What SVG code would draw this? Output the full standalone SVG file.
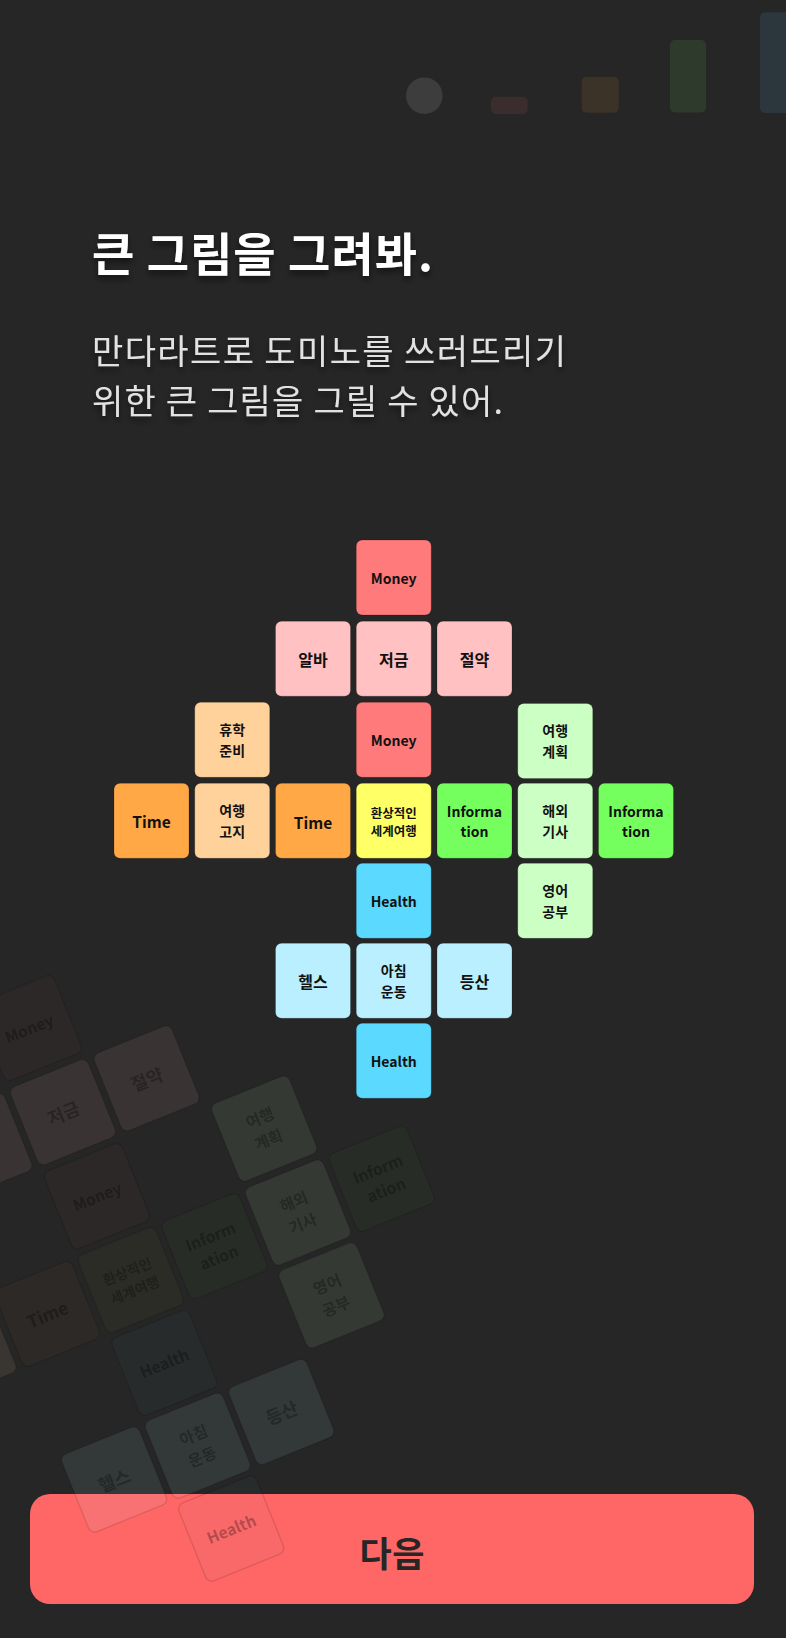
<svg xmlns="http://www.w3.org/2000/svg" width="786" height="1638" viewBox="0 0 786 1638">
<defs>
<style>
.bg{fill:#262626}
.t{stroke:rgba(0,0,0,0.18);stroke-width:1}
.red{fill:#FF7A7A}.pink{fill:#FFC1C1}
.org{fill:#FFA845}.lorg{fill:#FFD29B}
.yel{fill:#FFFF66}
.grn{fill:#75FF5E}.lgrn{fill:#CCFFC4}
.blu{fill:#5CD9FF}.lblu{fill:#B9EFFF}
.dim{fill-opacity:0.032}
.lite{fill-opacity:0.092}
.fs{stroke:rgba(0,0,0,0.12);stroke-width:1.2}
text{font-family:"Noto Sans CJK KR","Noto Sans",sans-serif;font-weight:700;fill:#111;text-anchor:middle;dominant-baseline:central}
#faded text{fill:#000;fill-opacity:0.3}
.lb{font-size:14px}
.lk{font-size:16px}
.lt{font-size:15.5px}
.ls{font-size:14px}
.lx{font-size:12.5px}
.title{font-size:46px;fill:#fff;text-anchor:start;dominant-baseline:alphabetic}
.sub{font-size:34px;font-weight:400;fill:#E2E2E2;text-anchor:start;dominant-baseline:alphabetic}
.btn{font-size:35px;fill:#262626}
</style>
<filter id="sh" x="-10%" y="-30%" width="120%" height="170%">
<feDropShadow dx="0" dy="4" stdDeviation="3" flood-color="#000" flood-opacity="0.55"/>
</filter>
</defs>
<rect class="bg" x="0" y="0" width="786" height="1638"/>

<g id="deco">
<circle cx="424.3" cy="95.7" r="18.3" fill="#3d3d3d"/>
<rect x="491" y="96.7" width="36.7" height="17.3" rx="5" fill="#3b2d2d"/>
<rect x="581.7" y="76.7" width="37" height="36" rx="5" fill="#3b3228"/>
<rect x="670" y="40" width="36" height="72.5" rx="5" fill="#2e3a2b"/>
<rect x="760" y="12.3" width="36" height="100.7" rx="5" fill="#2b373c"/>
</g>

<g id="heading" filter="url(#sh)">
<text class="title" x="92" y="271" textLength="341" lengthAdjust="spacing">큰 그림을 그려봐.</text>
<text class="sub" x="92" y="364" textLength="474" lengthAdjust="spacing">만다라트로 도미노를 쓰러뜨리기</text>
<text class="sub" x="92" y="414" textLength="411" lengthAdjust="spacing">위한 큰 그림을 그릴 수 있어.</text>
</g>

<g id="button">
<rect x="30" y="1494" width="724" height="110" rx="20" fill="#FF6666"/>
<text class="btn" x="392" y="1551" textLength="65" lengthAdjust="spacing">다음</text>
</g>

<g id="faded" transform="translate(130.8 1280) rotate(-22) scale(1.117) translate(-393.75 -820.8)">
<rect class="red dim fs" x="356.25" y="540" width="75" height="75" rx="6"/><text class="lb" x="393.75" y="577.5">Money</text>
<rect class="pink lite fs" x="275.5" y="621.2" width="75" height="75" rx="6"/><text class="lk" x="313" y="658.7">알바</text>
<rect class="pink lite fs" x="356.25" y="621.2" width="75" height="75" rx="6"/><text class="lk" x="393.75" y="658.7">저금</text>
<rect class="pink lite fs" x="437" y="621.2" width="75" height="75" rx="6"/><text class="lk" x="474.5" y="658.7">절약</text>
<rect class="lorg lite fs" x="194.75" y="702.3" width="75" height="75" rx="6"/><text class="ls" x="232.25" y="729">휴학</text><text class="ls" x="232.25" y="750">준비</text>
<rect class="red dim fs" x="356.25" y="702.3" width="75" height="75" rx="6"/><text class="lb" x="393.75" y="739.8">Money</text>
<rect class="lgrn lite fs" x="517.75" y="702.3" width="75" height="75" rx="6"/><text class="ls" x="555.25" y="729">여행</text><text class="ls" x="555.25" y="750">계획</text>
<rect class="org dim fs" x="114" y="783.3" width="75" height="75" rx="6"/><text class="lt" x="151.5" y="820.8">Time</text>
<rect class="lorg lite fs" x="194.75" y="783.3" width="75" height="75" rx="6"/><text class="ls" x="232.25" y="810">여행</text><text class="ls" x="232.25" y="831">고지</text>
<rect class="org dim fs" x="275.5" y="783.3" width="75" height="75" rx="6"/><text class="lt" x="313" y="820.8">Time</text>
<rect class="yel dim fs" x="356.25" y="783.3" width="75" height="75" rx="6"/><text class="lx" x="393.75" y="812">환상적인</text><text class="lx" x="393.75" y="830">세계여행</text>
<rect class="grn dim fs" x="437" y="783.3" width="75" height="75" rx="6"/><text class="lb" x="474.5" y="811">Inform</text><text class="lb" x="474.5" y="831">ation</text>
<rect class="lgrn lite fs" x="517.75" y="783.3" width="75" height="75" rx="6"/><text class="ls" x="555.25" y="810">해외</text><text class="ls" x="555.25" y="831">기사</text>
<rect class="grn dim fs" x="598.5" y="783.3" width="75" height="75" rx="6"/><text class="lb" x="636" y="811">Inform</text><text class="lb" x="636" y="831">ation</text>
<rect class="blu dim fs" x="356.25" y="863.3" width="75" height="75" rx="6"/><text class="lb" x="393.75" y="900.8">Health</text>
<rect class="lgrn lite fs" x="517.75" y="863.3" width="75" height="75" rx="6"/><text class="ls" x="555.25" y="890">영어</text><text class="ls" x="555.25" y="911">공부</text>
<rect class="lblu lite fs" x="275.5" y="943.3" width="75" height="75" rx="6"/><text class="lk" x="313" y="980.8">헬스</text>
<rect class="lblu lite fs" x="356.25" y="943.3" width="75" height="75" rx="6"/><text class="ls" x="393.75" y="970">아침</text><text class="ls" x="393.75" y="991">운동</text>
<rect class="lblu lite fs" x="437" y="943.3" width="75" height="75" rx="6"/><text class="lk" x="474.5" y="980.8">등산</text>
<rect class="blu dim fs" x="356.25" y="1023.3" width="75" height="75" rx="6"/><text class="lb" x="393.75" y="1060.8">Health</text>
</g>

<g id="mandala">
<g id="n-money-top"><rect class="red t" x="356.25" y="540" width="75" height="75" rx="6"/><text class="lb" x="393.75" y="577.5">Money</text></g>
<g id="n-alba"><rect class="pink t" x="275.5" y="621.2" width="75" height="75" rx="6"/><text class="lk" x="313" y="658.7">알바</text></g>
<g id="n-savings"><rect class="pink t" x="356.25" y="621.2" width="75" height="75" rx="6"/><text class="lk" x="393.75" y="658.7">저금</text></g>
<g id="n-thrift"><rect class="pink t" x="437" y="621.2" width="75" height="75" rx="6"/><text class="lk" x="474.5" y="658.7">절약</text></g>
<g id="n-leave"><rect class="lorg t" x="194.75" y="702.3" width="75" height="75" rx="6"/><text class="ls" x="232.25" y="729">휴학</text><text class="ls" x="232.25" y="750">준비</text></g>
<g id="n-money"><rect class="red t" x="356.25" y="702.3" width="75" height="75" rx="6"/><text class="lb" x="393.75" y="739.8">Money</text></g>
<g id="n-plan"><rect class="lgrn t" x="517.75" y="703.5" width="75" height="75" rx="6"/><text class="ls" x="555.25" y="730">여행</text><text class="ls" x="555.25" y="751">계획</text></g>
<g id="n-time-left"><rect class="org t" x="114" y="783.3" width="75" height="75" rx="6"/><text class="lt" x="151.5" y="820.8">Time</text></g>
<g id="n-notice"><rect class="lorg t" x="194.75" y="783.3" width="75" height="75" rx="6"/><text class="ls" x="232.25" y="810">여행</text><text class="ls" x="232.25" y="831">고지</text></g>
<g id="n-time"><rect class="org t" x="275.5" y="783.3" width="75" height="75" rx="6"/><text class="lt" x="313" y="822">Time</text></g>
<g id="n-center"><rect class="yel t" x="356.25" y="783.3" width="75" height="75" rx="6"/><text class="lx" x="393.75" y="812">환상적인</text><text class="lx" x="393.75" y="830">세계여행</text></g>
<g id="n-info"><rect class="grn t" x="437" y="783.3" width="75" height="75" rx="6"/><text class="lb" x="474.5" y="811">Informa</text><text class="lb" x="474.5" y="831">tion</text></g>
<g id="n-abroad"><rect class="lgrn t" x="517.75" y="783.3" width="75" height="75" rx="6"/><text class="ls" x="555.25" y="810">해외</text><text class="ls" x="555.25" y="831">기사</text></g>
<g id="n-info-right"><rect class="grn t" x="598.5" y="783.3" width="75" height="75" rx="6"/><text class="lb" x="636" y="811">Informa</text><text class="lb" x="636" y="831">tion</text></g>
<g id="n-health"><rect class="blu t" x="356.25" y="863.3" width="75" height="75" rx="6"/><text class="lb" x="393.75" y="900.8">Health</text></g>
<g id="n-english"><rect class="lgrn t" x="517.75" y="863.3" width="75" height="75" rx="6"/><text class="ls" x="555.25" y="890">영어</text><text class="ls" x="555.25" y="911">공부</text></g>
<g id="n-gym"><rect class="lblu t" x="275.5" y="943.3" width="75" height="75" rx="6"/><text class="lk" x="313" y="980.8">헬스</text></g>
<g id="n-morning"><rect class="lblu t" x="356.25" y="943.3" width="75" height="75" rx="6"/><text class="ls" x="393.75" y="970">아침</text><text class="ls" x="393.75" y="991">운동</text></g>
<g id="n-hike"><rect class="lblu t" x="437" y="943.3" width="75" height="75" rx="6"/><text class="lk" x="474.5" y="980.8">등산</text></g>
<g id="n-health-bottom"><rect class="blu t" x="356.25" y="1023.3" width="75" height="75" rx="6"/><text class="lb" x="393.75" y="1060.8">Health</text></g>
</g>
<g id="connectors"/>
</svg>
